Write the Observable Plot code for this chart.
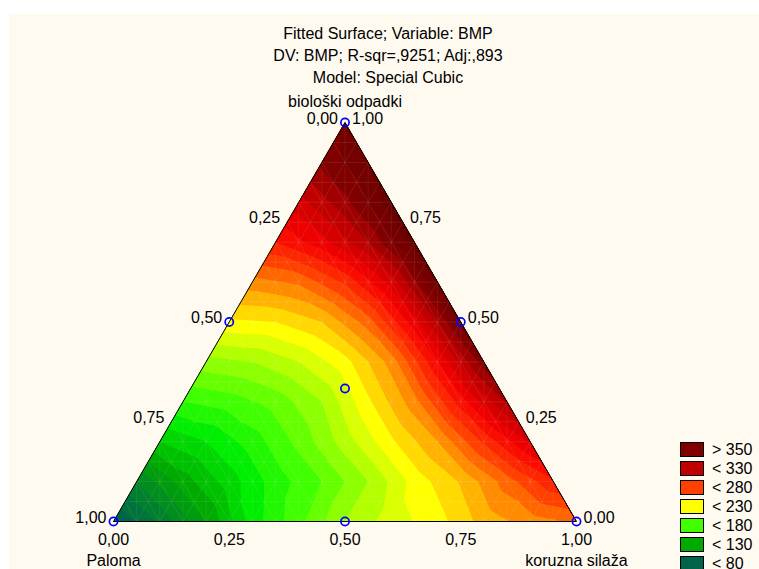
<!DOCTYPE html>
<html>
<head>
<meta charset="utf-8">
<script src="https://cdn.jsdelivr.net/npm/d3@7"></script>
<script src="https://cdn.jsdelivr.net/npm/@observablehq/plot@0.6"></script>
<style>
  body { margin: 0; background: #ffffff; }
  #page { position: relative; width: 759px; height: 569px; overflow: hidden; background: #ffffff;
          font-family: "Liberation Sans", Arial, sans-serif; color: #000; }
  #panel { position: absolute; left: 9px; top: 14px; width: 750px; height: 555px; background: #fffaf0; }
  #chart { position: absolute; left: 0; top: 0; }
  .tline { position: absolute; left: 188px; width: 400px; text-align: center; font-size: 16px; line-height: 22px; white-space: nowrap; }
  .sw { position: absolute; left: 680px; width: 24px; height: 15px; box-sizing: border-box; border: 1px solid #000; }
  .lab { position: absolute; left: 712px; font-size: 16px; line-height: 18px; white-space: nowrap; }
</style>
</head>
<body>
<div id="page">
  <div id="panel"></div>
  <div id="chart"></div>
  <div id="titles"></div>
  <div id="legend"></div>
</div>
<script>
// ---------- data ----------
const titleLines = ["Fitted Surface; Variable: BMP", "DV: BMP; R-sqr=,9251; Adj:,893", "Model: Special Cubic"];
const componentNames = ["biološki odpadki", "Paloma", "koruzna silaža"];
const tickValues = [0, 0.25, 0.5, 0.75, 1];
const tickLabels = ["0,00", "0,25", "0,50", "0,75", "1,00"];

// fitted BMP on a 0.1 simplex grid
// row i: biološki = i/10 ; entry j: Paloma = j/10 ; koruzna = rest
const bmpRows = [
  [262, 255, 244, 226, 215, 200, 177, 155, 120, 92, 70],
  [288, 265, 241, 224, 200, 180, 165, 145, 125, 100],
  [312, 282, 250, 228, 205, 183, 165, 150, 140],
  [332, 295, 256, 228, 200, 184, 175, 170],
  [346, 300, 254, 226, 210, 200, 196],
  [355, 306, 265, 240, 230, 228],
  [362, 314, 282, 262, 256],
  [366, 330, 306, 290],
  [366, 337, 316],
  [360, 343],
  [352]
];

// design points (blue circles)
const designBio     = [1, 0, 0, 0.5, 0.5, 0,   1/3];
const designPaloma  = [0, 1, 0, 0.5, 0,   0.5, 1/3];
const designKoruzna = [0, 0, 1, 0,   0.5, 0.5, 1/3];

// legend
const legendLabels = ["> 350", "< 330", "< 280", "< 230", "< 180", "< 130", "< 80"];
const legendColors = ["#800000", "#c00000", "#ff4000", "#ffff00", "#40ff00", "#00aa00", "#00644a"];
// colour ramp of the surface (upper level of a band -> colour)
const rampLevels = [80, 130, 160, 180, 230, 280, 305, 330, 350, 370];
const rampColors = ["#00644a", "#00aa00", "#00ee00", "#40ff00", "#ffff00", "#ff4000", "#f80000", "#c00000", "#800000", "#680000"];
const contourLevels = d3.range(50, 400, 10);
const meshLevels = d3.range(1, 20).map(k => k / 20);

// ---------- helpers ----------
const H = Math.sqrt(3) / 2;
const toX = (a, b, c) => c + a / 2;
const toY = (a, b, c) => a * H;

const grid = [];
bmpRows.forEach((row, i) => {
  row.forEach((v, j) => {
    const a = i / 10, b = j / 10, c = Math.max(0, Math.round((1 - a - b) * 10) / 10);
    grid.push({X: toX(a, b, c), Y: toY(a, b, c), v});
  });
});

const design = designBio.map((a, i) => {
  const b = designPaloma[i], c = designKoruzna[i];
  return {X: toX(a, b, c), Y: toY(a, b, c)};
});

// faint surface mesh (constant a, constant b, constant c, and vertical lines)
const mesh = [];
meshLevels.forEach(k => {
  mesh.push({x1: toX(k, 1 - k, 0), y1: toY(k, 1 - k, 0), x2: toX(k, 0, 1 - k), y2: toY(k, 0, 1 - k), o: 0.13});
  mesh.push({x1: toX(0, 1 - k, k), y1: toY(0, 1 - k, k), x2: toX(1 - k, 0, k), y2: toY(1 - k, 0, k), o: 0.13});
  mesh.push({x1: toX(0, k, 1 - k), y1: toY(0, k, 1 - k), x2: toX(1 - k, k, 0), y2: toY(1 - k, k, 0), o: 0.13});
  mesh.push({x1: k, y1: 0, x2: k, y2: Math.min(2 * k, 2 - 2 * k) * H, o: 0.1});
});

const leftTicks   = tickValues.map((t, i) => ({X: (1 - t) / 2, Y: (1 - t) * H, label: tickLabels[i]}));
const rightTicks  = tickValues.map((t, i) => ({X: 1 - t / 2, Y: t * H, label: tickLabels[i]}));
const bottomTicks = tickValues.map((t, i) => ({X: t, Y: 0, label: tickLabels[i]}));
const outline = [[0, 0], [1, 0], [0.5, H], [0, 0]];

// each band [t, t+10) gets the colour of its upper level
const colorDomain = rampLevels.map(l => l - 10);

const font = "'Liberation Sans', Arial, sans-serif";

const plot = Plot.plot({
  width: 759,
  height: 569,
  marginLeft: 113,
  marginRight: 183,
  marginTop: 122,
  marginBottom: 48,
  style: {background: "transparent", fontFamily: font, fontSize: "16px", overflow: "visible"},
  x: {domain: [0, 1], axis: null},
  y: {domain: [0, H], axis: null},
  color: {type: "linear", domain: colorDomain, range: rampColors, interpolate: "rgb", clamp: true},
  marks: [
    Plot.contour(grid, {x: "X", y: "Y", fill: "v", interpolate: "barycentric", thresholds: contourLevels, pixelSize: 1, stroke: "none"}),
    Plot.link(mesh, {x1: "x1", y1: "y1", x2: "x2", y2: "y2", stroke: "#ffffff", strokeOpacity: "o", strokeWidth: 0.7}),
    Plot.line(outline, {x: d => d[0], y: d => d[1], stroke: "#000", strokeWidth: 1}),
    Plot.dot(design, {x: "X", y: "Y", r: 4.1, stroke: "#0000ff", strokeWidth: 1.7, fill: "none"}),
    Plot.text(leftTicks, {x: "X", y: "Y", text: "label", textAnchor: "end", dx: -7, dy: -4, fontSize: 16, fill: "#000"}),
    Plot.text(rightTicks, {x: "X", y: "Y", text: "label", textAnchor: "start", dx: 7, dy: -4, fontSize: 16, fill: "#000"}),
    Plot.text(bottomTicks, {x: "X", y: "Y", text: "label", dy: 18, fontSize: 16, fill: "#000"}),
    Plot.text([{X: 0.5, Y: H, t: componentNames[0]}], {x: "X", y: "Y", text: "t", dy: -21, fontSize: 16, fill: "#000"}),
    Plot.text([{X: 0, Y: 0, t: componentNames[1]}, {X: 1, Y: 0, t: componentNames[2]}], {x: "X", y: "Y", text: "t", dy: 39, fontSize: 16, fill: "#000"})
  ]
});

// clip the surface and mesh to the simplex
const sx = plot.scale("x"), sy = plot.scale("y");
const ns = "http://www.w3.org/2000/svg";
const defs = document.createElementNS(ns, "defs");
const cp = document.createElementNS(ns, "clipPath");
cp.setAttribute("id", "triClip");
const poly = document.createElementNS(ns, "polygon");
poly.setAttribute("points", outline.slice(0, 3).map(([x, y]) => sx.apply(x) + "," + sy.apply(y)).join(" "));
cp.appendChild(poly);
defs.appendChild(cp);
plot.insertBefore(defs, plot.firstChild);
["contour", "link"].forEach(name => {
  const g = plot.querySelector('g[aria-label="' + name + '"]');
  if (g) g.setAttribute("clip-path", "url(#triClip)");
});

document.getElementById("chart").appendChild(plot);

// titles
const titles = document.getElementById("titles");
titleLines.forEach((t, i) => {
  const d = document.createElement("div");
  d.className = "tline";
  d.style.top = (23 + i * 22) + "px";
  d.textContent = t;
  titles.appendChild(d);
});

// legend
const legend = document.getElementById("legend");
legendLabels.forEach((t, i) => {
  const s = document.createElement("div");
  s.className = "sw";
  s.style.top = (442 + i * 19) + "px";
  s.style.background = legendColors[i];
  legend.appendChild(s);
  const l = document.createElement("div");
  l.className = "lab";
  l.style.top = (442 + i * 19 - 1) + "px";
  l.textContent = t;
  legend.appendChild(l);
});
</script>
</body>
</html>
